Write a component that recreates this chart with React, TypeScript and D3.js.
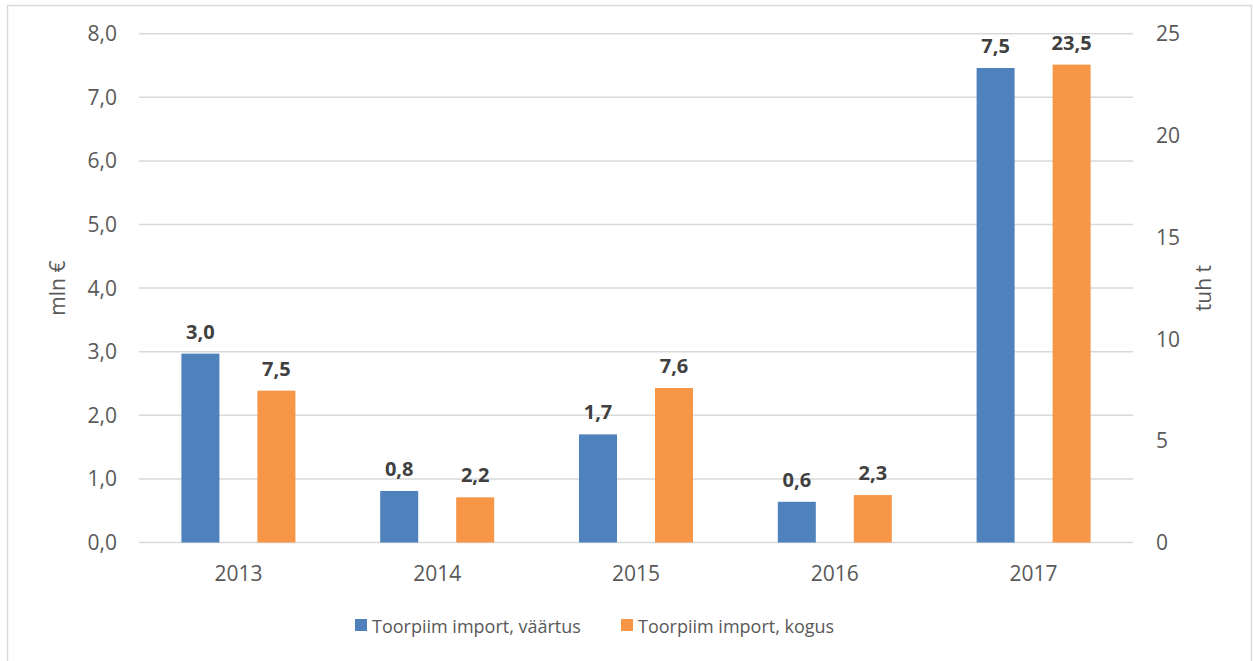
import React, { useEffect, useRef } from 'react';
import * as d3 from 'd3';

const years = ['2013', '2014', '2015', '2016', '2017'];
const vaartus = [2.97, 0.81, 1.7, 0.64, 7.46]; // mln €
const kogus = [7.46, 2.22, 7.59, 2.33, 23.48]; // tuh t
const leftTicks = [0, 1, 2, 3, 4, 5, 6, 7, 8];
const rightTicks = [0, 5, 10, 15, 20, 25];
const seriesNames = ['Toorpiim import, väärtus', 'Toorpiim import, kogus'];

const W = 1253;
const H = 661;
const BLUE = '#4f81bd';
const ORANGE = '#f79646';
const FONT = '"Open Sans", sans-serif';

const fmt = (v: number) => v.toFixed(1).replace('.', ',');

const App = () => {
  const svgRef = useRef<SVGSVGElement>(null);

  useEffect(() => {
    const svg = d3.select(svgRef.current);
    svg.selectAll('*').remove();

    const plot = { left: 139, right: 1133, top: 33.7, bottom: 542.5 };

    svg.append('rect')
      .attr('x', 0).attr('y', 0).attr('width', W).attr('height', H)
      .attr('fill', '#fff');

    // outer frame
    svg.append('rect')
      .attr('x', 7.5).attr('y', 5.5)
      .attr('width', 1244).attr('height', 700)
      .attr('fill', 'none')
      .attr('stroke', '#d9d9d9')
      .attr('stroke-width', 1.5);

    const x = d3.scaleBand<string>()
      .domain(years)
      .range([plot.left, plot.right]);

    const inner = d3.scaleBand<string>()
      .domain(['a', 'b'])
      .range([42.4, x.bandwidth() - 42.4])
      .paddingInner(0.5);

    const yL = d3.scaleLinear().domain([0, 8]).range([plot.bottom, plot.top]);
    const yR = d3.scaleLinear().domain([0, 25]).range([plot.bottom, plot.top]);

    // gridlines
    svg.append('g')
      .selectAll('line')
      .data(leftTicks)
      .join('line')
      .attr('x1', plot.left).attr('x2', plot.right)
      .attr('y1', d => yL(d)).attr('y2', d => yL(d))
      .attr('stroke', '#d9d9d9')
      .attr('stroke-width', 1.5);

    // left tick labels
    svg.append('g')
      .selectAll('text')
      .data(leftTicks)
      .join('text')
      .attr('x', 117)
      .attr('y', d => yL(d))
      .attr('dy', '0.36em')
      .attr('text-anchor', 'end')
      .style('font-family', FONT)
      .style('font-size', '21px')
      .style('fill', '#595959')
      .text(d => fmt(d));

    // right tick labels
    svg.append('g')
      .selectAll('text')
      .data(rightTicks)
      .join('text')
      .attr('x', 1156)
      .attr('y', d => yR(d))
      .attr('dy', '0.36em')
      .attr('text-anchor', 'start')
      .style('font-family', FONT)
      .style('font-size', '21px')
      .style('fill', '#595959')
      .text(d => String(d));

    // axis titles
    const midY = (plot.top + plot.bottom) / 2;
    svg.append('text')
      .attr('transform', `translate(65, ${midY}) rotate(-90)`)
      .attr('text-anchor', 'middle')
      .style('font-family', FONT)
      .style('font-size', '21px')
      .style('fill', '#595959')
      .text('mln €');

    svg.append('text')
      .attr('transform', `translate(1211, ${midY}) rotate(-90)`)
      .attr('text-anchor', 'middle')
      .style('font-family', FONT)
      .style('font-size', '21px')
      .style('fill', '#595959')
      .text('tuh t');

    // x labels
    svg.append('g')
      .selectAll('text')
      .data(years)
      .join('text')
      .attr('x', d => (x(d) as number) + x.bandwidth() / 2)
      .attr('y', 581)
      .attr('text-anchor', 'middle')
      .style('font-family', FONT)
      .style('font-size', '21px')
      .style('fill', '#595959')
      .text(d => d);

    // bars
    const bars = years.map((yr, i) => [
      { yr, key: 'a', y: yL(vaartus[i]), v: vaartus[i], color: BLUE },
      { yr, key: 'b', y: yR(kogus[i]), v: kogus[i], color: ORANGE },
    ]).flat();

    svg.append('g')
      .selectAll('rect')
      .data(bars)
      .join('rect')
      .attr('x', d => (x(d.yr) as number) + (inner(d.key) as number))
      .attr('y', d => d.y)
      .attr('width', inner.bandwidth())
      .attr('height', d => plot.bottom - d.y)
      .attr('fill', d => d.color);

    svg.append('g')
      .selectAll('text')
      .data(bars)
      .join('text')
      .attr('x', d => (x(d.yr) as number) + (inner(d.key) as number) + inner.bandwidth() / 2)
      .attr('y', d => d.y - 15)
      .attr('text-anchor', 'middle')
      .style('font-family', FONT)
      .style('font-size', '20px')
      .style('font-weight', 'bold')
      .style('fill', '#404040')
      .text(d => fmt(d.v));

    // legend
    const legend = svg.append('g');
    const legendX = [355, 621];
    const items = legend.selectAll('g')
      .data(seriesNames)
      .join('g')
      .attr('transform', (d, i) => `translate(${legendX[i]}, 619)`);
    items.append('rect')
      .attr('width', 12).attr('height', 12)
      .attr('fill', (d, i) => (i === 0 ? BLUE : ORANGE));
    items.append('text')
      .attr('x', 17)
      .attr('y', 14)
      .style('font-family', FONT)
      .style('font-size', '18px')
      .style('fill', '#595959')
      .text(d => d);
  }, []);

  return (
    <svg
      ref={svgRef}
      width={W}
      height={H}
      style={{ position: 'absolute', left: 0, top: 0 }}
    />
  );
};

export default App;
